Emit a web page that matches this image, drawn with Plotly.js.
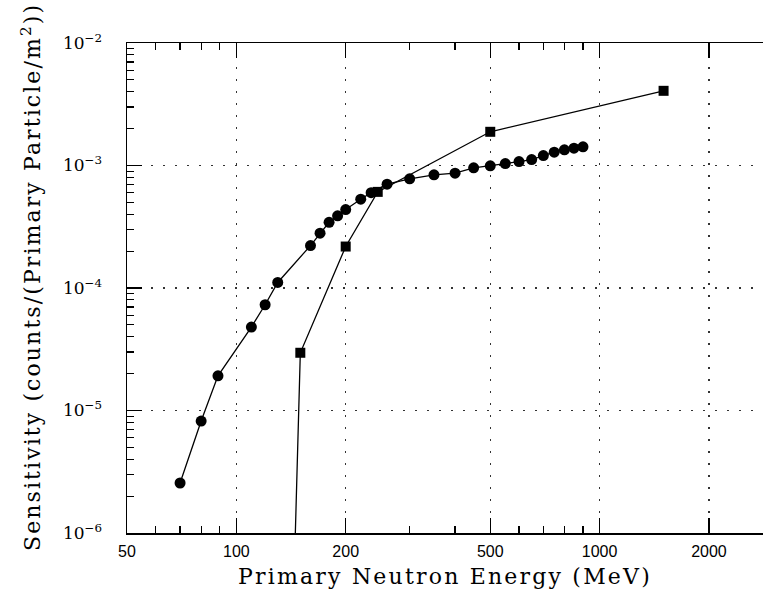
<!DOCTYPE html>
<html>
<head>
<meta charset="utf-8">
<script src="https://cdn.plot.ly/plotly-3.0.1.min.js"></script>
<style>
html,body{margin:0;padding:0;background:#fff;}
#chart{width:763px;height:592px;}
.xtitle{letter-spacing:2.2px;}
.annotation-text{letter-spacing:2.1px;}
</style>
</head>
<body>
<div id="chart"></div>
<script>
// Series 1: circles
const circleEnergy = [70, 80, 89, 110, 120, 130, 160, 170, 180, 190, 200, 220, 235, 260, 300, 350, 400, 450, 500, 550, 600, 650, 700, 750, 800, 850, 900];
const circleSens = [2.56e-6, 8.2e-6, 1.92e-5, 4.8e-5, 7.3e-5, 1.11e-4, 2.22e-4, 2.8e-4, 3.44e-4, 3.88e-4, 4.37e-4, 5.31e-4, 6.0e-4, 7.04e-4, 7.78e-4, 8.39e-4, 8.66e-4, 9.57e-4, 9.93e-4, 1.038e-3, 1.077e-3, 1.118e-3, 1.206e-3, 1.285e-3, 1.342e-3, 1.386e-3, 1.42e-3];
// Series 2: squares (first point lies below the plotted range)
const squareEnergy = [140, 150, 200, 245, 500, 1500];
const squareSens = [1.8e-8, 2.96e-5, 2.18e-4, 6.09e-4, 1.884e-3, 4.07e-3];
// Tick labels
const xTickVals = [50, 100, 200, 500, 1000, 2000];
const xTickText = ["50", "100", "200", "500", "1000", "2000"];
const yTickVals = [1e-6, 1e-5, 1e-4, 1e-3, 1e-2];
const yTickText = ["10<sup>−6</sup>", "10<sup>−5</sup>", "10<sup>−4</sup>", "10<sup>−3</sup>", "10<sup>−2</sup>"];
const xTitle = "Primary Neutron Energy (MeV)";
const yTitle = "Sensitivity (counts/(Primary Particle/m<sup>2</sup>))";

const xMinor = [];
[10, 100, 1000].forEach(d => { for (let k = 2; k <= 9; k++) xMinor.push(k * d); });
const yMinor = [];
[1e-6, 1e-5, 1e-4, 1e-3].forEach(d => { for (let k = 2; k <= 9; k++) yMinor.push(k * d); });

const serif = "DejaVu Serif, serif";
const sans = "Liberation Sans, Arial, sans-serif";
const xRange = [Math.log10(50), Math.log10(2817)];

const traces = [
  {x: circleEnergy, y: circleSens, mode: "lines+markers", type: "scatter",
   line: {color: "#000", width: 1.3}, marker: {symbol: "circle", size: 11, color: "#000"}},
  {x: squareEnergy, y: squareSens, mode: "lines+markers", type: "scatter",
   line: {color: "#000", width: 1.3}, marker: {symbol: "square", size: 10, color: "#000"}},
  {x: [], y: [], xaxis: "x2", yaxis: "y", type: "scatter", mode: "markers", hoverinfo: "skip"}
];

const gridDash = "1.5px,10.5px";
const layout = {
  width: 763, height: 592,
  margin: {l: 127, r: 0, t: 43, b: 59},
  paper_bgcolor: "#fff", plot_bgcolor: "#fff",
  showlegend: false,
  xaxis: {
    type: "log", range: xRange,
    tickmode: "array", tickvals: xTickVals, ticktext: xTickText,
    ticks: "inside", ticklen: 15, tickwidth: 1.2, tickcolor: "#000",
    showline: true, linecolor: "#000", linewidth: 1.5, mirror: false,
    showgrid: true, gridcolor: "#333", gridwidth: 1.4, griddash: gridDash,
    zeroline: false,
    tickfont: {family: sans, size: 16, color: "#000"},
    ticklabelstandoff: 3,
    minor: {tickmode: "array", tickvals: xMinor, ticks: "inside", ticklen: 7, tickwidth: 1.2, tickcolor: "#000", showgrid: false},
    title: {text: xTitle, font: {family: serif, size: 22, color: "#000"}, standoff: 10}
  },
  xaxis2: {
    type: "log", range: xRange, overlaying: "x", side: "top",
    tickmode: "array", tickvals: xTickVals, showticklabels: false,
    ticks: "inside", ticklen: 15, tickwidth: 1.2, tickcolor: "#000",
    showline: true, linecolor: "#000", linewidth: 1.5,
    showgrid: false, zeroline: false,
    minor: {tickmode: "array", tickvals: xMinor, ticks: "inside", ticklen: 7, tickwidth: 1.2, tickcolor: "#000", showgrid: false}
  },
  yaxis: {
    type: "log", range: [-6, -2],
    tickmode: "array", tickvals: yTickVals, ticktext: yTickText,
    ticks: "inside", ticklen: 15, tickwidth: 1.2, tickcolor: "#000",
    showline: true, linecolor: "#000", linewidth: 1.5, mirror: false,
    showgrid: true, gridcolor: "#333", gridwidth: 1.4, griddash: gridDash,
    zeroline: false,
    tickfont: {family: serif, size: 17, color: "#000"},
    ticklabelstandoff: 20,
    minor: {tickmode: "array", tickvals: yMinor, ticks: "inside", ticklen: 7, tickwidth: 1.2, tickcolor: "#000", showgrid: false}
  },
  annotations: [{
    text: yTitle, textangle: -90, showarrow: false,
    xref: "paper", yref: "paper", x: (31 - 127) / 636, y: (533 - 277) / 490,
    xanchor: "center", yanchor: "middle",
    font: {family: serif, size: 22, color: "#000"}
  }]
};

Plotly.newPlot("chart", traces, layout, {staticPlot: true, displayModeBar: false});
</script>
</body>
</html>
